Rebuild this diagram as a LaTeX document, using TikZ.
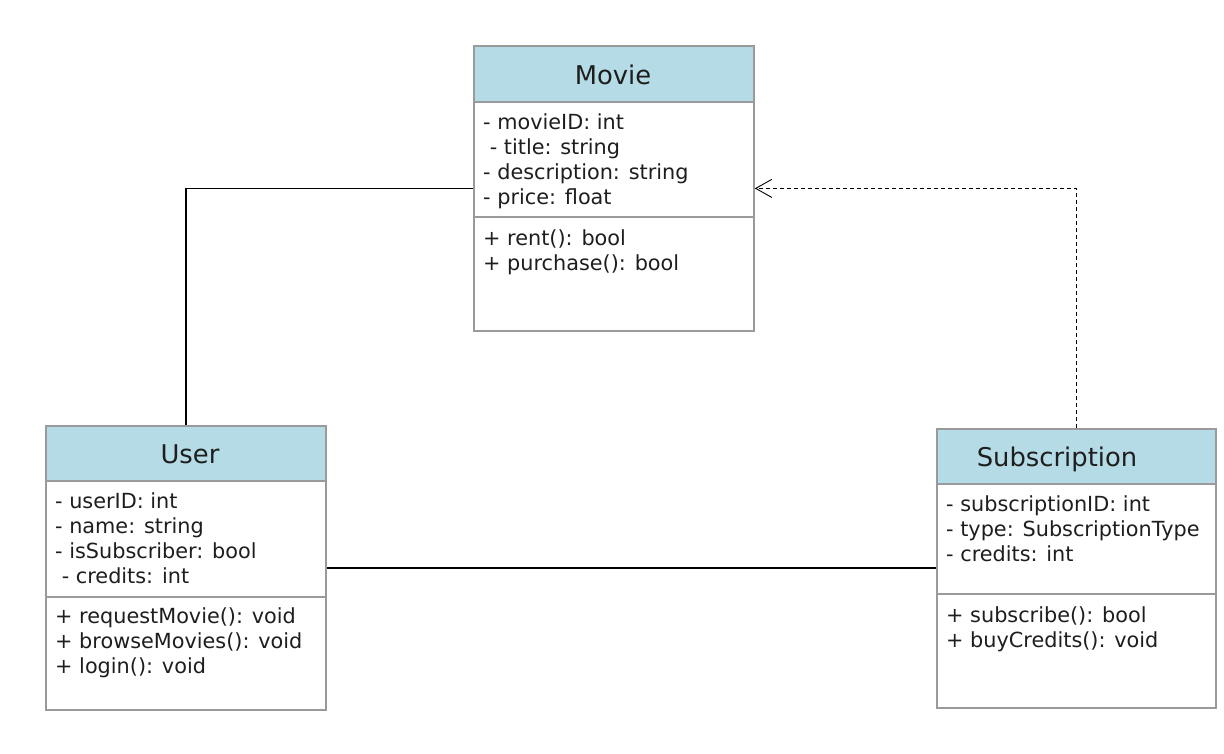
\documentclass[tikz,border=0pt]{standalone}
\usepackage{fontspec}
\setmainfont{DejaVu Sans}
\usetikzlibrary{arrows.meta}
\definecolor{hdr}{HTML}{B5DCE6}
\definecolor{bord}{HTML}{9A9A9A}
\definecolor{txt}{HTML}{1E1E1E}
\begin{document}
\begin{tikzpicture}[x=1pt,y=-1pt,
  classbox/.style={draw=bord,line width=1.8pt,rectangle,inner sep=0pt,anchor=north west},
  hdrbox/.style={draw=bord,fill=hdr,line width=1.8pt,rectangle,inner sep=0pt,anchor=north west},
  ttl/.style={anchor=base,inner sep=0pt,text=txt,font=\fontsize{25.8pt}{30pt}\selectfont},
  mem/.style={anchor=base west,inner sep=0pt,text=txt,font=\fontsize{20.8pt}{25pt}\selectfont},
  divider/.style={draw=bord,line width=1.8pt},
  assoc/.style={draw=black,line width=1.4pt},
  dep/.style={draw=black,line width=1.3pt,dash pattern=on 4pt off 3pt,-{Straight Barb[length=16pt,width=18pt,line width=0.9pt]}}
]
\useasboundingbox (0,0) rectangle (1224,753);
\fill[white] (0,0) rectangle (1224,753);

% Movie
\node[hdrbox,minimum width=280pt,minimum height=56pt] (movieh) at (473,45) {};
\node[classbox,minimum width=280pt,minimum height=285pt] (movie) at (473,45) {};
\draw[divider] (473,217) -- (753,217);
\node[ttl] (moviet) at (613,84) {Movie};
\node[mem] (m1) at (483,129) {- movieID: int};
\node[mem] (m2) at (483,154) {\ - title: string};
\node[mem] (m3) at (483,179) {- description: string};
\node[mem] (m4) at (483,204) {- price: float};
\node[mem] (m5) at (483,245) {+ rent(): bool};
\node[mem] (m6) at (483,270) {+ purchase(): bool};

% User
\node[hdrbox,minimum width=280pt,minimum height=55pt] (userh) at (45,425) {};
\node[classbox,minimum width=280pt,minimum height=284pt] (user) at (45,425) {};
\draw[divider] (45,597) -- (325,597);
\node[ttl] (usert) at (190,463) {User};
\node[mem] (u1) at (55,508) {- userID: int};
\node[mem] (u2) at (55,533) {- name: string};
\node[mem] (u3) at (55,558) {- isSubscriber: bool};
\node[mem] (u4) at (55,583) {\ - credits: int};
\node[mem] (u5) at (55,623) {+ requestMovie(): void};
\node[mem] (u6) at (55,648) {+ browseMovies(): void};
\node[mem] (u7) at (55,673) {+ login(): void};

% Subscription
\node[hdrbox,minimum width=279pt,minimum height=55pt] (subh) at (936,428) {};
\node[classbox,minimum width=279pt,minimum height=279pt] (sub) at (936,428) {};
\draw[divider] (936,594) -- (1215,594);
\node[ttl] (subt) at (1057,466) {Subscription};
\node[mem] (s1) at (946,511) {- subscriptionID: int};
\node[mem] (s2) at (946,536) {- type: SubscriptionType};
\node[mem] (s3) at (946,561) {- credits: int};
\node[mem] (s4) at (946,622) {+ subscribe(): bool};
\node[mem] (s5) at (946,647) {+ buyCredits(): void};

% connectors
\draw[assoc] (movie.west) -| (user.north);
\draw[assoc] (user.east) -- (sub.west |- user.east);
\draw[dep] (sub.north) |- (movie.east);
\end{tikzpicture}
\end{document}
